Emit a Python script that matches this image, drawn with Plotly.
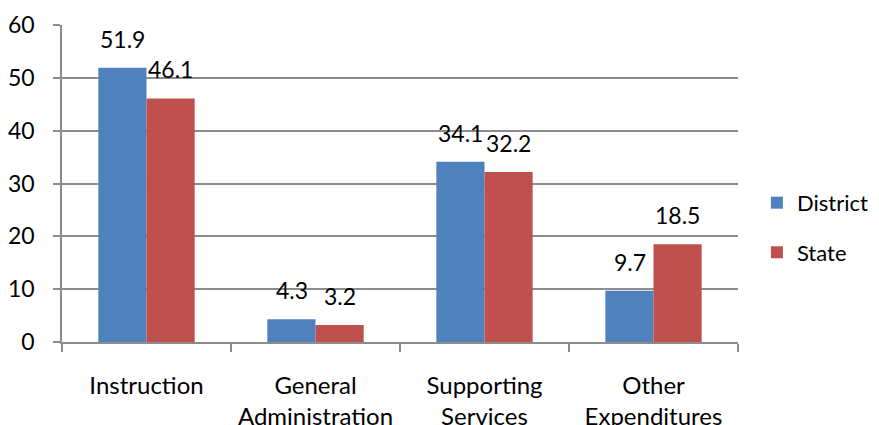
import plotly.graph_objects as go

categories = ["Instruction", "General<br>Administration", "Supporting<br>Services", "Other<br>Expenditures"]
district = [51.9, 4.3, 34.1, 9.7]
state = [46.1, 3.2, 32.2, 18.5]
series_names = ["District", "State"]
colors = ["#4F81BD", "#C0504D"]
font_family = "Lato, 'Liberation Sans', sans-serif"

fig = go.Figure()
for i, (name, vals) in enumerate(zip(series_names, [district, state])):
    fig.add_trace(go.Bar(
        x=categories, y=vals, name=name,
        marker=dict(color=colors[i], line=dict(width=0)),
        legendgroup=name,
    ))
    for c, v in zip(categories, vals):
        fig.add_annotation(
            x=c, y=v, text=f"{v}", showarrow=False,
            xref="x", yref="y", yanchor="bottom",
            xshift=(-24 if i == 0 else 24), yshift=13,
            font=dict(family=font_family, size=23, color="#000000"),
        )

fig.update_layout(
    width=879, height=425,
    margin=dict(l=54, r=149, t=17, b=91, autoexpand=False),
    paper_bgcolor="white", plot_bgcolor="white",
    barmode="group", bargap=0.43, bargroupgap=0,
    font=dict(family=font_family, size=23, color="#000000"),
    legend=dict(
        x=1.028, xanchor="left", y=0.36, yanchor="middle",
        font=dict(size=22), tracegroupgap=18,
        itemwidth=30, bgcolor="rgba(0,0,0,0)",
    ),
)
fig.update_xaxes(
    type="category", showgrid=False, automargin=False,
    showline=True, linecolor="#8c8c8c", linewidth=1.5,
    ticks="outside", tickson="boundaries", ticklen=8, tickcolor="#8c8c8c", tickwidth=1.5,
    ticklabelstandoff=21,
    tickfont=dict(size=24),
)
fig.update_yaxes(
    range=[0, 60], dtick=10, automargin=False,
    showgrid=True, gridcolor="#8c8c8c", gridwidth=1.5,
    showline=True, linecolor="#8c8c8c", linewidth=1.5,
    ticks="outside", ticklen=7, tickcolor="#8c8c8c", tickwidth=1.5,
    ticklabelstandoff=14,
    tickfont=dict(size=23),
    zeroline=False,
)

fig.write_html("out.html")
